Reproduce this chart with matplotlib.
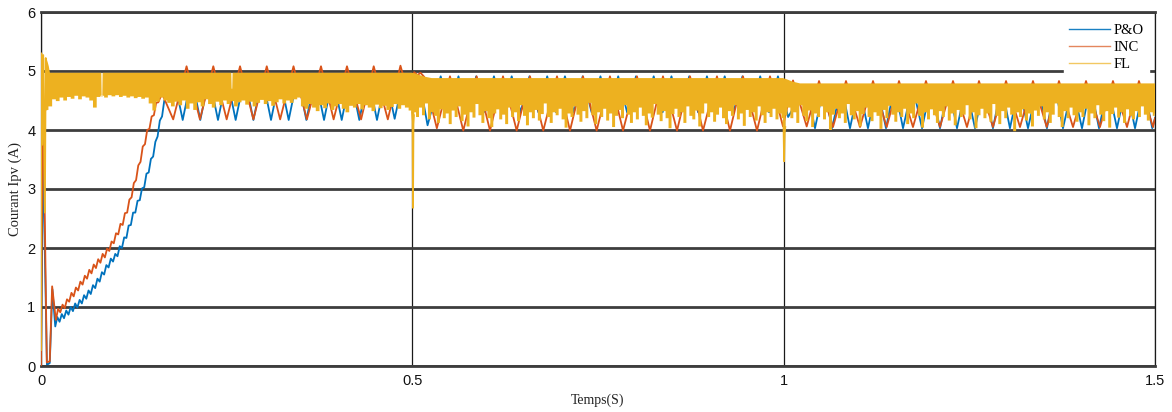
import numpy as np
import matplotlib
matplotlib.use("Agg")
import matplotlib.pyplot as plt
from matplotlib.lines import Line2D
from matplotlib.font_manager import FontProperties

# ---------------- data ----------------
series_labels = ["P&O", "INC", "FL"]
x_ticks = [0, 0.5, 1, 1.5]
x_tick_labels = ["0", "0.5", "1", "1.5"]
y_ticks = [0, 1, 2, 3, 4, 5, 6]

# P&O current: start-up transient, rippled ramp, then turning points of the limit cycle
po_start_t = [0.0, 0.0025, 0.0080, 0.0118, 0.0153, 0.0192]
po_start_i = [0.0, 3.70, 0.02, 0.05, 1.30, 0.67]
po_ramp_span = (0.022, 0.166)
po_ramp_i = [0.83, 0.75, 0.88, 0.81, 0.94, 0.87, 1.00, 0.93, 1.06, 0.99,
             1.12, 1.06, 1.20, 1.14, 1.28, 1.22, 1.37, 1.32, 1.48, 1.43,
             1.59, 1.55, 1.71, 1.67, 1.82, 1.77, 1.90, 1.86, 2.03, 2.00,
             2.18, 2.17, 2.38, 2.39, 2.60, 2.60, 2.80, 2.81, 3.01, 3.03,
             3.26, 3.28, 3.51, 3.55, 3.80, 3.89, 4.16, 4.23, 4.50]
po_osc_t = [0.1720, 0.1790, 0.1908, 0.2027, 0.2145, 0.2264, 0.2383, 0.2502, 0.2621, 0.2741,
            0.2860, 0.2979, 0.3097, 0.3216, 0.3335, 0.3454, 0.3573, 0.3692, 0.3811, 0.3930,
            0.4049, 0.4168, 0.4286, 0.4405, 0.4524, 0.4643, 0.4762, 0.4881, 0.4985, 0.5085,
            0.5205, 0.5382, 0.5502, 0.5621, 0.5741, 0.5860, 0.5980, 0.6099, 0.6219, 0.6338,
            0.6458, 0.6577, 0.6697, 0.6816, 0.6936, 0.7055, 0.7175, 0.7294, 0.7414, 0.7533,
            0.7653, 0.7772, 0.7892, 0.8011, 0.8131, 0.8250, 0.8370, 0.8489, 0.8609, 0.8728,
            0.8848, 0.8967, 0.9087, 0.9206, 0.9326, 0.9445, 0.9565, 0.9684, 0.9804, 0.9923,
            1.0060, 1.0302, 1.0422, 1.0541, 1.0650, 1.0780, 1.0893, 1.1014, 1.1135, 1.1257,
            1.1378, 1.1493, 1.1607, 1.1735, 1.1863, 1.1984, 1.2105, 1.2220, 1.2334, 1.2455,
            1.2576, 1.2697, 1.2818, 1.2933, 1.3047, 1.3169, 1.3290, 1.3418, 1.3545, 1.3653,
            1.3761, 1.3889, 1.4017, 1.4132, 1.4246, 1.4367, 1.4488, 1.4610, 1.4731, 1.4850,
            1.4963, 1.5000]
po_osc_i = [4.62, 4.88, 4.17, 4.90, 4.17, 4.90, 4.17, 4.90, 4.17, 4.90,
            4.17, 4.90, 4.17, 4.90, 4.17, 4.90, 4.17, 4.90, 4.17, 4.90,
            4.17, 4.90, 4.17, 4.90, 4.17, 4.90, 4.19, 4.90, 4.45, 4.92,
            4.08, 4.91, 4.30, 4.91, 4.30, 4.91, 4.30, 4.91, 4.30, 4.91,
            4.30, 4.91, 4.30, 4.91, 4.30, 4.91, 4.30, 4.91, 4.30, 4.91,
            4.30, 4.91, 4.30, 4.91, 4.30, 4.91, 4.30, 4.91, 4.30, 4.91,
            4.30, 4.91, 4.30, 4.91, 4.30, 4.91, 4.30, 4.91, 4.30, 4.91,
            4.22, 4.75, 4.03, 4.75, 4.03, 4.75, 4.03, 4.75, 4.03, 4.75,
            4.03, 4.75, 4.03, 4.75, 4.03, 4.75, 4.03, 4.75, 4.03, 4.75,
            4.03, 4.75, 4.03, 4.75, 4.03, 4.75, 4.03, 4.75, 4.03, 4.75,
            4.03, 4.75, 4.03, 4.75, 4.03, 4.75, 4.03, 4.75, 4.03, 4.75,
            4.03, 4.20]

# INC current
inc_start_t = [0.0, 0.0025, 0.0078, 0.0118, 0.0150, 0.0200]
inc_start_i = [0.0, 4.93, 0.06, 0.08, 1.35, 0.78]
inc_ramp_span = (0.023, 0.158)
inc_ramp_i = [0.97, 0.91, 1.04, 0.98, 1.13, 1.09, 1.24, 1.18, 1.33, 1.28,
              1.43, 1.38, 1.53, 1.48, 1.63, 1.57, 1.72, 1.66, 1.81, 1.75,
              1.90, 1.84, 1.99, 1.95, 2.11, 2.08, 2.25, 2.23, 2.41, 2.39,
              2.59, 2.60, 2.82, 2.86, 3.10, 3.15, 3.40, 3.46, 3.72, 3.76,
              4.00, 4.02, 4.23, 4.25, 4.46, 4.47]
inc_osc_t = [0.163, 0.178, 0.196, 0.214, 0.232, 0.250, 0.268, 0.286, 0.304, 0.322,
             0.340, 0.358, 0.377, 0.394, 0.412, 0.431, 0.448, 0.467, 0.484, 0.4975,
             0.5025, 0.507, 0.511, 0.516, 0.533, 0.5507, 0.5686, 0.5866, 0.6046, 0.6221,
             0.6405, 0.6584, 0.6763, 0.6948, 0.7123, 0.7298, 0.7482, 0.7661, 0.7837, 0.8025,
             0.8200, 0.8375, 0.8564, 0.8739, 0.8914, 0.9102, 0.9277, 0.9452, 0.9641, 0.9816,
             0.9991, 1.0126, 1.0310, 1.0476, 1.0664, 1.0839, 1.1028, 1.1203, 1.1387, 1.1553,
             1.1741, 1.1916, 1.2105, 1.2280, 1.2468, 1.2630, 1.2818, 1.2994, 1.3182, 1.3357,
             1.3542, 1.3707, 1.3896, 1.4071, 1.4259, 1.4434, 1.4623, 1.4784, 1.4973, 1.5000]
inc_osc_i = [4.62, 4.18, 5.08, 4.18, 5.08, 4.18, 5.08, 4.18, 5.08, 4.18,
             5.08, 4.18, 5.08, 4.18, 5.08, 4.18, 5.08, 4.18, 5.09, 4.48,
             4.98, 4.93, 4.97, 4.90, 4.03, 4.91, 3.99, 4.91, 3.99, 4.91,
             3.99, 4.91, 3.99, 4.91, 3.99, 4.91, 3.99, 4.91, 3.99, 4.91,
             3.99, 4.91, 3.99, 4.91, 3.99, 4.91, 3.99, 4.91, 3.99, 4.91,
             4.06, 4.84, 4.06, 4.83, 4.05, 4.83, 4.05, 4.83, 4.05, 4.83,
             4.05, 4.83, 4.05, 4.83, 4.05, 4.83, 4.05, 4.83, 4.05, 4.83,
             4.05, 4.83, 4.05, 4.83, 4.05, 4.83, 4.05, 4.83, 4.05, 4.20]

# FL current: start-up transient line, then the fast-switching band (upper / lower edges)
fl_start_t = [0.0, 0.0004, 0.0016, 0.0030, 0.0052, 0.0064, 0.0072]
fl_start_i = [0.27, 5.30, 3.75, 5.27, 2.60, 5.22, 4.35]

fl_top_t = [0.0072, 0.0090, 0.0105, 0.0120, 0.0812, 0.0817, 0.0825, 0.0830,
            0.2562, 0.2567, 0.2575, 0.2580, 0.5000, 0.5040, 0.5100, 0.5180,
            0.5260, 0.9990, 1.0040, 1.0120, 1.0220, 1.5000]
fl_top_i = [5.22, 5.15, 5.08, 4.97, 4.97, 4.56, 4.56, 4.97,
            4.97, 4.70, 4.70, 4.97, 4.97, 4.96, 4.93, 4.90,
            4.88, 4.88, 4.86, 4.82, 4.79, 4.79]

fl_low_start_t = [0.0072]
fl_low_start_i = [4.35]
fl_low_p1_span = (0.0075, 0.4975)
fl_low_p1 = [4.34, 4.40, 4.52, 4.49, 4.55, 4.50, 4.56, 4.53, 4.58, 4.52,
             4.57, 4.55, 4.50, 4.38, 4.56, 4.58, 4.55, 4.59, 4.57, 4.59,
             4.56, 4.58, 4.55, 4.57, 4.54, 4.56, 4.53, 4.55, 4.45, 4.33,
             4.48, 4.55, 4.50, 4.46, 4.40, 4.48, 4.42, 4.50, 4.36, 4.45,
             4.34, 4.47, 4.40, 4.52, 4.44, 4.38, 4.48, 4.42, 4.50, 4.44,
             4.49, 4.40, 4.47, 4.50, 4.43, 4.48, 4.40, 4.46, 4.51, 4.44,
             4.49, 4.41, 4.47, 4.52, 4.45, 4.50, 4.46, 4.52, 4.55, 4.40,
             4.36, 4.44, 4.38, 4.32, 4.42, 4.37, 4.45, 4.34, 4.40, 4.44,
             4.36, 4.30, 4.41, 4.38, 4.44, 4.35, 4.42, 4.38, 4.32, 4.43,
             4.37, 4.41, 4.34, 4.39, 4.44, 4.36, 4.42, 4.38, 4.33]
fl_step1_t = [0.4995, 0.5003, 0.5009, 0.5015, 0.5022]
fl_step1_i = [4.30, 4.15, 2.68, 4.10, 4.25]
fl_low_p2_span = (0.503, 0.999)
fl_low_p2 = [4.30, 4.22, 4.38, 4.25, 4.45, 4.18, 4.30, 4.24, 4.12, 4.35,
             4.20, 4.28, 4.10, 4.33, 4.22, 4.40, 4.15, 4.26, 4.06, 4.30,
             4.21, 4.44, 4.25, 4.12, 4.32, 4.20, 4.05, 4.28, 4.35, 4.18,
             4.26, 4.10, 4.38, 4.22, 4.30, 4.15, 4.42, 4.24, 4.08, 4.30,
             4.20, 4.34, 4.16, 4.27, 4.45, 4.22, 4.12, 4.30, 4.25, 4.36,
             4.18, 4.04, 4.28, 4.22, 4.40, 4.26, 4.14, 4.32, 4.20, 4.46,
             4.25, 4.10, 4.30, 4.22, 4.36, 4.16, 4.28, 4.05, 4.24, 4.34,
             4.20, 4.42, 4.26, 4.12, 4.30, 4.18, 4.38, 4.24, 4.08, 4.28,
             4.21, 4.44, 4.26, 4.15, 4.32, 4.20, 4.03, 4.27, 4.36, 4.22,
             4.30, 4.12, 4.40, 4.24, 4.18, 4.33, 4.06, 4.28, 4.45, 4.22,
             4.30, 4.14, 4.26, 4.38, 4.20, 4.10, 4.32, 4.24, 4.42, 4.18,
             4.28, 4.07, 4.34, 4.22, 4.30, 4.16, 4.40, 4.25, 4.12, 4.30,
             4.22, 4.36, 4.18, 4.28, 4.20]
fl_step2_t = [0.9997, 1.0006, 1.0014, 1.0022]
fl_step2_i = [4.15, 3.47, 3.95, 4.05]
fl_low_p3_span = (1.003, 1.499)
fl_low_p3 = [4.25, 4.38, 4.20, 4.30, 4.12, 4.42, 4.24, 4.15, 4.33, 4.05,
             4.28, 4.22, 4.40, 4.18, 4.30, 4.00, 4.26, 4.36, 4.20, 4.28,
             4.12, 4.44, 4.25, 4.18, 4.32, 4.06, 4.27, 4.38, 4.22, 4.15,
             4.30, 4.24, 4.02, 4.34, 4.20, 4.41, 4.26, 4.14, 4.30, 4.22,
             4.36, 4.10, 4.28, 4.20, 4.45, 4.24, 4.04, 4.30, 4.18, 4.35,
             4.25, 4.12, 4.32, 4.22, 4.40, 4.16, 4.28, 4.08, 4.34, 4.22,
             4.26, 4.42, 4.18, 4.30, 4.03, 4.25, 4.36, 4.20, 4.28, 4.14,
             4.44, 4.24, 4.10, 4.32, 4.20, 4.38, 4.26, 3.98, 4.30, 4.22,
             4.35, 4.16, 4.28, 4.06, 4.33, 4.24, 4.40, 4.18, 4.30, 4.12,
             4.26, 4.45, 4.22, 4.05, 4.32, 4.20, 4.38, 4.25, 4.14, 4.30,
             4.22, 4.36, 4.08, 4.28, 4.20, 4.42, 4.26, 4.15, 4.32, 4.04,
             4.27, 4.38, 4.21, 4.30, 4.12, 4.35, 4.24, 4.18, 4.32, 4.22,
             4.40, 4.26, 4.16, 4.30, 4.24]
fl_low_end_t = [1.5]
fl_low_end_i = [4.28]

# ---------------- assemble ----------------
def build_series(start_t, start_i, span, ramp_i, osc_t, osc_i):
    ramp_t = np.linspace(span[0], span[1], len(ramp_i))
    t = np.concatenate([start_t, ramp_t, osc_t])
    i = np.concatenate([start_i, ramp_i, osc_i])
    return t, i


def step_path(t, v):
    """Sample-and-hold outline: each sample spans half-way to its neighbours."""
    t = np.asarray(t, float)
    v = np.asarray(v, float)
    edges = np.concatenate([[t[0]], (t[:-1] + t[1:]) / 2, [t[-1]]])
    xs = np.empty(2 * len(t))
    ys = np.empty(2 * len(t))
    xs[0::2] = edges[:-1]
    xs[1::2] = edges[1:]
    ys[0::2] = v
    ys[1::2] = v
    return xs, ys


po_t, po_i = build_series(po_start_t, po_start_i, po_ramp_span, po_ramp_i, po_osc_t, po_osc_i)
inc_t, inc_i = build_series(inc_start_t, inc_start_i, inc_ramp_span, inc_ramp_i, inc_osc_t, inc_osc_i)

low_t = np.concatenate([fl_low_start_t,
                        np.linspace(*fl_low_p1_span, len(fl_low_p1)), fl_step1_t,
                        np.linspace(*fl_low_p2_span, len(fl_low_p2)), fl_step2_t,
                        np.linspace(*fl_low_p3_span, len(fl_low_p3)), fl_low_end_t])
low_i = np.concatenate([fl_low_start_i, fl_low_p1, fl_step1_i, fl_low_p2,
                        fl_step2_i, fl_low_p3, fl_low_end_i])
low_x, low_y = step_path(low_t, low_i)
band_t = np.concatenate([fl_top_t, low_x[::-1]])
band_i = np.concatenate([fl_top_i, low_y[::-1]])

# ---------------- figure ----------------
c_po, c_inc, c_fl = "#0072BD", "#D95319", "#EDB120"

fig = plt.figure(figsize=(11.72, 4.12), dpi=100)
ax = fig.add_axes([41 / 1172, 46 / 412, 1114 / 1172, 354 / 412])

ax.plot(po_t, po_i, color=c_po, lw=1.3, zorder=2)
ax.plot(inc_t, inc_i, color=c_inc, lw=1.3, zorder=3)
ax.fill(band_t, band_i, color=c_fl, lw=0, zorder=4)
ax.plot(fl_start_t, fl_start_i, color=c_fl, lw=1.3, zorder=4)
ax.plot(fl_step1_t, fl_step1_i, color=c_fl, lw=1.3, zorder=4)
ax.plot(fl_step2_t, fl_step2_i, color=c_fl, lw=1.3, zorder=4)

ax.set_xlim(0, 1.5)
ax.set_ylim(0, 6)
ax.set_xticks(x_ticks)
ax.set_xticklabels(x_tick_labels)
ax.set_yticks(y_ticks)
ax.set_yticklabels([str(v) for v in y_ticks])

tick_font = FontProperties(family="Liberation Sans", size=10.5)
for lab in ax.get_xticklabels() + ax.get_yticklabels():
    lab.set_fontproperties(tick_font)
ax.tick_params(axis="both", length=0, colors="#111111")
ax.tick_params(axis="x", pad=6)
ax.tick_params(axis="y", pad=4)

ax.set_axisbelow(True)
ax.yaxis.grid(True, color="#3d3d3d", lw=2.0)
ax.xaxis.grid(True, color="#1a1a1a", lw=0.9)
for side in ("top", "bottom"):
    ax.spines[side].set_color("#3d3d3d")
    ax.spines[side].set_linewidth(2.0)
for side in ("left", "right"):
    ax.spines[side].set_color("#1a1a1a")
    ax.spines[side].set_linewidth(0.9)

serif = "Liberation Serif"
ax.set_xlabel("Temps(S)", family=serif, fontsize=10, color="#222222")
ax.xaxis.set_label_coords(0.5, -0.077)
ax.set_ylabel("Courant Ipv (A)", family=serif, fontsize=10.5, color="#222222")
ax.yaxis.set_label_coords(-0.017, 0.5)

handles = [Line2D([], [], color=c, lw=1.0, alpha=a)
           for c, a in zip((c_po, c_inc, c_fl), (0.9, 0.7, 0.7))]
leg = ax.legend(handles, series_labels, loc="upper right",
                bbox_to_anchor=(0.9946, 0.982), borderaxespad=0,
                frameon=True, fancybox=False, framealpha=1,
                facecolor="white", edgecolor="white",
                prop=FontProperties(family=serif, size=10.5),
                handlelength=2.8, handletextpad=0.25,
                labelspacing=0.28, borderpad=0.35)
leg.set_zorder(6)

fig.savefig("out.png", dpi=100)
